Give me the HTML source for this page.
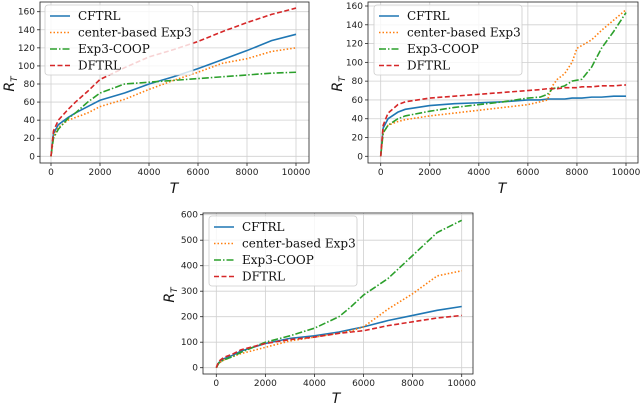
<!DOCTYPE html>
<html><head><meta charset="utf-8">
<style>
body{margin:0;background:#fff;width:640px;height:404px;overflow:hidden}
svg{display:block}
.tick{font-family:"DejaVu Sans","Liberation Sans",sans-serif;font-size:9px;fill:#222}
.leg{font-family:"DejaVu Serif","Liberation Serif",serif;font-size:12px;fill:#111}
.ax{font-family:"DejaVu Sans","Liberation Sans",sans-serif;font-style:italic;font-size:14px;fill:#111}
</style></head>
<body>
<svg id="fig" width="640" height="404"></svg>
<script>
const names=["CFTRL","center-based Exp3","Exp3-COOP","DFTRL"];
const t1=[0,100,300,700,1000,1500,2000,3000,4000,5000,6000,7000,8000,9000,10000];
const c1_cftrl=[0,25,35,43,48,55,62,70,80,88,97,107,117,128,135];
const c1_cb=[0,22,32,40,43,48,55,63,74,84,93,103,108,116,120];
const c1_coop=[0,20,30,42,48,60,70,80,82,84,86,88,90,92,93];
const c1_dftrl=[0,28,40,52,60,72,85,98,110,118,127,138,148,157,164];
const t2=[0,100,300,700,1000,2000,3000,4000,5000,6000,6500,6800,7000,7200,7500,7800,8000,8200,8600,9000,9500,10000];
const c2_cftrl=[0,30,40,47,50,54,56,57,58,60,60,61,61,61,61,62,62,62,63,63,64,64];
const c2_cb=[0,25,33,37,39,43,46,49,52,55,58,60,75,82,88,100,115,118,124,134,145,156];
const c2_coop=[0,25,33,40,43,48,52,55,58,62,63,66,72,73,75,80,81,82,95,115,133,153];
const c2_dftrl=[0,33,46,55,58,62,64,66,68,70,71,72,72,72,73,73,73,74,74,75,75,76];
const t3=[0,100,300,700,1000,2000,3000,4000,5000,5500,6000,7000,8000,9000,10000];
const c3_cftrl=[0,20,35,50,65,95,115,125,140,150,160,185,205,225,240];
const c3_cb=[0,18,30,45,55,80,105,120,135,145,160,230,290,360,380];
const c3_coop=[0,18,30,45,60,100,125,155,200,240,285,350,440,530,578];
const c3_dftrl=[0,25,40,55,70,95,110,120,135,140,145,165,180,195,205];
const xticks=[0,2000,4000,6000,8000,10000];
const yt1=[0,20,40,60,80,100,120,140,160];
const yt3=[0,100,200,300,400,500,600];

const NS="http://www.w3.org/2000/svg";
const fig=document.getElementById('fig');
function mk(tag,at,parent){const e=document.createElementNS(NS,tag);for(const k in at)e.setAttribute(k,at[k]);(parent||fig).appendChild(e);return e;}
const styles=[{c:"#1f77b4",d:""},{c:"#ff7f0e",d:"1.5,2"},{c:"#2ca02c",d:"7,2,1.5,2"},{c:"#d62728",d:"5,2.5"}];

function chart(id,box,x0px,x1px,y0px,ymaxpx,ymax,yticks,T,series,leg,yl,xl){
  const g=mk('g',{});
  
  
  const sx=v=>x0px+(x1px-x0px)*v/10000;
  const sy=v=>y0px-(y0px-ymaxpx)*v/ymax;
  xticks.forEach(v=>{
    const l=mk('line',{x1:sx(v),x2:sx(v),y1:box.t,y2:box.b,stroke:"#d0d0d0","stroke-width":0.8},g);
    
    mk('line',{x1:sx(v),x2:sx(v),y1:box.b,y2:box.b+3,stroke:"#222","stroke-width":0.8},g);
    const t=mk('text',{x:sx(v),y:box.b+12,"text-anchor":"middle",class:"tick"},g);t.textContent=v;
    
  });
  yticks.forEach(v=>{
    const l=mk('line',{x1:box.l,x2:box.r,y1:sy(v),y2:sy(v),stroke:"#d0d0d0","stroke-width":0.8},g);
    
    mk('line',{x1:box.l-3,x2:box.l,y1:sy(v),y2:sy(v),stroke:"#222","stroke-width":0.8},g);
    const t=mk('text',{x:box.l-5,y:sy(v)+3,"text-anchor":"end",class:"tick"},g);t.textContent=v;
    
  });
  series.forEach((s,i)=>{
    const p=mk('polyline',{points:T.map((t,j)=>sx(t)+","+sy(s[j])).join(" "),fill:"none",stroke:styles[i].c,"stroke-width":1.6,"stroke-dasharray":styles[i].d},g);
    
    
  });
  const fr=mk('rect',{x:box.l,y:box.t,width:box.r-box.l,height:box.b-box.t,fill:"none",stroke:"#222","stroke-width":0.8},g);
  
  const lg=mk('g',{},g);
  
  mk('rect',{x:leg.x,y:leg.y,width:148,height:70,rx:3,fill:"rgba(255,255,255,0.8)",stroke:"#ccc","stroke-width":0.8},lg);
  names.forEach((n,i)=>{
    const yy=leg.y+11+i*16.5;
    const e=mk('g',{},lg);
    
    mk('line',{x1:leg.x+5,x2:leg.x+25,y1:yy,y2:yy,stroke:styles[i].c,"stroke-width":1.6,"stroke-dasharray":styles[i].d},e);
    const t=mk('text',{x:leg.x+33,y:yy+4,class:"leg"},e);t.textContent=n;
  });
  const yt=mk('text',{x:yl.x,y:yl.y,class:"ax",transform:`rotate(-90 ${yl.x} ${yl.y})`,"text-anchor":"middle"},g);
  yt.innerHTML='R<tspan font-size="9" dy="3">T</tspan>';
  
  const xt=mk('text',{x:xl.x,y:xl.y,class:"ax","text-anchor":"middle"},g);xt.textContent="T";
  
}
chart('chart-top-left',{l:40,r:309,t:2,b:163},51,296,156.3,11.7,160,yt1,t1,[c1_cftrl,c1_cb,c1_coop,c1_dftrl],{x:45,y:5},{x:14,y:84},{x:174,y:193});
chart('chart-top-right',{l:368,r:638,t:2,b:163},380.7,626,156.3,6,160,yt1,t2,[c2_cftrl,c2_cb,c2_coop,c2_dftrl],{x:374,y:5},{x:342,y:84},{x:502,y:193});
chart('chart-bottom',{l:203,r:473,t:213,b:374},216.3,461.7,367.7,214.7,600,yt3,t3,[c3_cftrl,c3_cb,c3_coop,c3_dftrl],{x:209,y:216},{x:174,y:295},{x:336,y:403});
</script>
</body></html>
